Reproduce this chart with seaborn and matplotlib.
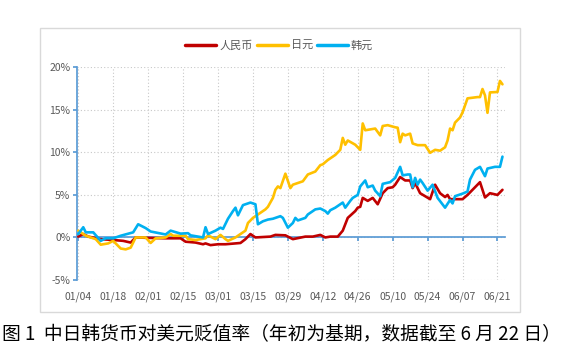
import numpy as np
import pandas as pd
import matplotlib
matplotlib.use('Agg')
import matplotlib.pyplot as plt
import matplotlib.dates as mdates
from matplotlib.lines import Line2D
from matplotlib.patches import Rectangle
import seaborn as sns

# days counted from the first date, values in percent
start = '2022-01-04'

rmb_day = [0, 2, 4, 9, 14, 18, 21, 23, 28, 35, 41, 43, 47, 50, 51, 53, 56, 59, 65, 67,
           69, 71, 77, 79, 83, 86, 91, 94, 97, 99, 101, 104, 106, 108, 111, 112, 113, 114,
           116, 118, 120, 122, 124, 126, 127, 129, 131, 133, 134, 135, 137, 141, 143, 145,
           147, 148, 149, 151, 154, 156, 158, 161, 163, 165, 168, 170]
rmb_val = [0.1, 0.4, 0.1, -0.2, -0.3, -0.4, -0.6, 0.0, -0.05, -0.1, -0.1, -0.5, -0.6, -0.8,
           -0.7, -0.9, -0.8, -0.8, -0.65, -0.2, 0.4, 0.0, 0.1, 0.3, 0.25, -0.2, 0.1, 0.1, 0.3,
           0.0, 0.1, 0.1, 0.8, 2.3, 3.1, 3.5, 3.6, 4.65, 4.3, 4.65, 3.9, 5.2, 5.8, 5.9, 6.2,
           7.1, 6.7, 6.7, 5.8, 6.4, 5.2, 4.5, 6.2, 5.2, 4.75, 5.0, 4.5, 4.5, 4.5, 5.0, 5.6,
           6.5, 4.7, 5.2, 5.0, 5.6]

jpy_day = [0, 2, 3, 7, 9, 12, 14, 17, 19, 21, 23, 27, 29, 31, 35, 37, 38, 43, 44, 47, 51,
           52, 55, 57, 59, 60, 63, 65, 67, 68, 70, 73, 75, 76, 78, 79, 80, 81, 83, 85, 86,
           88, 90, 92, 95, 97, 98, 100, 103, 105, 106, 107, 108, 111, 113, 114, 115, 119,
           121, 122, 124, 127, 128, 129, 130, 131, 133, 134, 136, 139, 141, 143, 145, 147,
           148, 149, 150, 151, 153, 154, 156, 160, 161, 162, 163, 164, 165, 168, 169, 170]
jpy_val = [0.8, 0.4, 0.2, -0.2, -0.85, -0.7, -0.4, -1.3, -1.4, -1.2, 0.0, 0.0, -0.65, -0.1,
           0.0, 0.4, 0.2, 0.2, -0.2, -0.3, -0.1, 0.25, -0.2, 0.3, -0.2, -0.4, 0.0, 0.4, 0.8,
           1.7, 2.3, 2.9, 3.3, 3.6, 4.65, 5.6, 6.0, 5.8, 7.5, 5.8, 6.2, 6.4, 6.6, 7.4, 7.75,
           8.5, 8.6, 9.1, 9.7, 10.3, 11.7, 10.9, 11.4, 10.9, 10.3, 13.4, 12.6, 12.8, 12.0,
           13.1, 13.2, 12.95, 12.9, 11.2, 12.2, 12.0, 12.2, 11.05, 10.85, 10.85, 9.95, 10.3,
           10.2, 10.6, 11.4, 12.8, 12.6, 13.5, 14.1, 14.7, 16.35, 16.5, 16.5, 17.45, 16.7,
           14.65, 17.05, 17.1, 18.4, 18.0]

krw_day = [0, 2, 3, 6, 9, 11, 14, 17, 22, 24, 27, 29, 35, 37, 41, 44, 45, 50, 51, 52, 55,
           57, 58, 60, 62, 63, 64, 66, 69, 71, 72, 74, 76, 78, 79, 81, 82, 84, 86, 87, 88,
           91, 92, 95, 97, 99, 100, 101, 103, 105, 106, 107, 109, 110, 112, 113, 115, 116,
           118, 119, 121, 122, 125, 127, 129, 130, 132, 133, 134, 135, 136, 137, 138, 140,
           142, 144, 147, 149, 150, 151, 154, 156, 157, 159, 161, 163, 164, 167, 169, 170]
krw_val = [0.4, 1.2, 0.6, 0.6, -0.4, -0.1, -0.1, 0.2, 0.6, 1.55, 1.1, 0.7, 0.35, 0.8, 0.45,
           0.5, 0.25, 0.0, 1.2, 0.4, 0.8, 1.15, 1.0, 2.2, 3.1, 3.5, 2.6, 3.8, 4.1, 3.9, 1.55,
           1.9, 2.1, 2.2, 2.3, 2.5, 2.3, 1.15, 1.7, 2.3, 2.0, 2.3, 2.7, 3.3, 3.4, 3.1, 2.8,
           3.2, 3.5, 3.9, 4.1, 3.5, 4.3, 4.65, 5.0, 6.0, 6.7, 5.9, 6.1, 5.5, 4.85, 6.3, 6.5,
           7.0, 8.3, 7.3, 7.4, 7.4, 5.9, 7.0, 6.2, 6.8, 6.4, 5.5, 6.2, 4.65, 3.5, 4.4, 4.0,
           4.85, 5.15, 5.4, 6.8, 7.95, 8.3, 7.2, 8.1, 8.3, 8.3, 9.5]

names = ['人民币', '日元', '韩元']
colors = ['#C00000', '#FFC000', '#00B0F0']
tick_dates = pd.date_range('2022-01-04', '2022-06-21', freq='14D')
y_ticks = [-5, 0, 5, 10, 15, 20]
caption = '图 1  中日韩货币对美元贬值率（年初为基期，数据截至 6 月 22 日）'

sns.set_theme(style='white')
plt.rcParams['font.family'] = ['Noto Sans CJK SC', 'DejaVu Sans']

# long table for seaborn
frames = []
for name, days, vals in zip(names, [rmb_day, jpy_day, krw_day], [rmb_val, jpy_val, krw_val]):
    dates = pd.Timestamp(start) + pd.to_timedelta(days, unit='D')
    frames.append(pd.DataFrame({'date': mdates.date2num(dates), 'value': vals, 'currency': name}))
df = pd.concat(frames, ignore_index=True)

axis_blue = '#5B9BD5'
grey_text = '#595959'

fig = plt.figure(figsize=(5.62, 3.64), dpi=100)
fig.patches.append(Rectangle((0.071, 0.143), 0.854, 0.78, transform=fig.transFigure,
                             fill=False, ec='#D9D9D9', lw=1))
ax = fig.add_axes([0.1375, 0.2308, 0.761, 0.5843])

sns.lineplot(data=df, x='date', y='value', hue='currency', palette=colors, hue_order=names,
             lw=1.9, estimator=None, sort=False, legend=False, ax=ax, zorder=3)

t0 = mdates.date2num(pd.Timestamp(start))
ax.set_xlim(t0 - 0.4, t0 + 171)
ax.set_ylim(-5, 20)
ax.set_xlabel('')
ax.set_ylabel('')

tick_nums = mdates.date2num(tick_dates)
ax.set_xticks(tick_nums)
ax.set_yticks(y_ticks)
ax.set_yticklabels([f'{v}%' for v in y_ticks])
ax.grid(True, ls=(0, (1, 2)), color='#C8C8C8', lw=0.8)

for s in ['top', 'right']:
    ax.spines[s].set_visible(False)
ax.spines['left'].set_color(axis_blue)
ax.spines['bottom'].set_color(axis_blue)
ax.spines['bottom'].set_position(('data', 0))
ax.tick_params(axis='y', left=True, length=3, color=axis_blue, labelcolor=grey_text,
               labelsize=7.5, pad=2)
ax.tick_params(axis='x', bottom=True, length=3, color=axis_blue, labelbottom=False)

# date labels sit at the bottom of the plot area
sec = ax.secondary_xaxis('bottom')
sec.set_xticks(tick_nums)
sec.xaxis.set_major_formatter(mdates.DateFormatter('%m/%d'))
sec.tick_params(length=0, labelcolor=grey_text, labelsize=7.5, pad=8.5)
sec.spines['bottom'].set_visible(False)

handles = [Line2D([], [], color=c, lw=2.5) for c in colors]
fig.legend(handles, names, loc='center', bbox_to_anchor=(0.497, 0.875), ncol=3,
           frameon=False, fontsize=8, handlelength=2.8, columnspacing=0.3,
           handletextpad=0.3, labelcolor=grey_text)

fig.text(0.5, 1 - 335 / 364, caption, ha='center', va='center', fontsize=13.5, color='black')

fig.savefig('out.png', dpi=100)
